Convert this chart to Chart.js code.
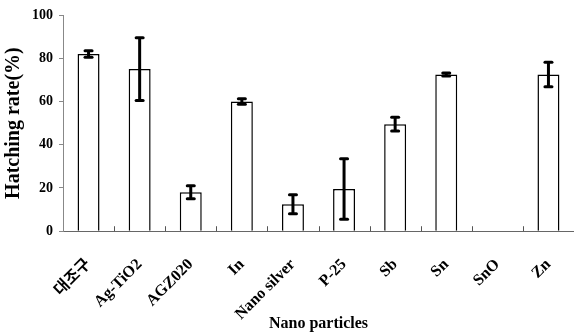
<!DOCTYPE html>
<html>
<head>
<meta charset="utf-8">
<script src="https://cdn.jsdelivr.net/npm/chart.js@4/dist/chart.umd.min.js"></script>
<style>
html,body{margin:0;padding:0;background:#fff;}
#wrap{width:574px;height:333px;position:relative;}
</style>
</head>
<body>
<div id="wrap"><canvas id="c"></canvas></div>
<script>
const categories = ['대조구', 'Ag-TiO2', 'AGZ020', 'In', 'Nano silver', 'P-25', 'Sb', 'Sn', 'SnO', 'Zn'];
const hatchingRate = [82, 75, 18, 60, 12.5, 19.5, 49.5, 72.5, 0, 72.5];
const errorValues = [1.5, 14.5, 3, 1.3, 4.4, 14, 3.2, 0.7, 0, 5.7];
const yTicks = [0, 20, 40, 60, 80, 100];

const FONT = "'Liberation Serif', 'Noto Sans CJK KR', serif";

const errorBarPlugin = {
  id: 'errorBars',
  afterDatasetsDraw(chart) {
    const ctx = chart.ctx;
    const meta = chart.getDatasetMeta(0);
    const y = chart.scales.y;
    ctx.save();
    ctx.strokeStyle = '#000';
    meta.data.forEach((bar, i) => {
      const v = hatchingRate[i], e = errorValues[i];
      if (!e) return;
      const yHi = y.getPixelForValue(v + e);
      const yLo = y.getPixelForValue(v - e);
      const x = bar.x;
      ctx.lineWidth = 3;
      ctx.lineCap = 'butt';
      ctx.beginPath();
      ctx.moveTo(x, yHi); ctx.lineTo(x, yLo); ctx.stroke();
      ctx.lineWidth = 3;
      ctx.lineCap = 'round';
      [yHi, yLo].forEach(py => {
        ctx.beginPath();
        ctx.moveTo(x - 3.5, py); ctx.lineTo(x + 3.5, py); ctx.stroke();
      });
    });
    ctx.restore();
  }
};

const innerTicksPlugin = {
  id: 'innerTicks',
  afterDraw(chart) {
    const ctx = chart.ctx;
    const xs = chart.scales.x;
    const bottom = chart.chartArea.bottom;
    ctx.save();
    ctx.strokeStyle = '#555';
    ctx.lineWidth = 1;
    for (let i = 1; i < categories.length; i++) {
      const px = Math.round((xs.getPixelForTick(i - 1) + xs.getPixelForTick(i)) / 2) + 0.5;
      ctx.beginPath();
      ctx.moveTo(px, bottom); ctx.lineTo(px, bottom - 5); ctx.stroke();
    }
    ctx.restore();
  }
};

new Chart(document.getElementById('c'), {
  type: 'bar',
  data: {
    labels: categories,
    datasets: [{
      data: hatchingRate,
      backgroundColor: '#ffffff',
      borderColor: '#000000',
      borderWidth: 1.5,
      borderSkipped: 'bottom',
      barPercentage: 0.43,
      categoryPercentage: 1.0
    }]
  },
  options: {
    responsive: true,
    maintainAspectRatio: false,
    animation: false,
    layout: { autoPadding: false, padding: { left: -2, right: 0, top: 15, bottom: 0 } },
    plugins: { legend: { display: false }, tooltip: { enabled: false } },
    scales: {
      x: {
        afterFit(scale) { scale.paddingLeft = 0; scale.paddingRight = 0; },
        grid: { display: false, drawOnChartArea: false },
        border: { display: true, color: '#666', width: 1 },
        ticks: {
          color: '#000',
          maxRotation: 45, minRotation: 45,
          autoSkip: false,
          padding: 16,
          font: { family: FONT, size: 16, weight: 'bold' }
        },
        title: {
          display: true,
          text: 'Nano particles',
          color: '#000',
          font: { family: FONT, size: 16, weight: 'bold' },
          padding: { top: -26, bottom: 0 }
        }
      },
      y: {
        min: 0, max: 100,
        afterFit(scale) { scale.paddingTop = 0; },
        afterBuildTicks(axis) { axis.ticks = yTicks.map(v => ({ value: v })); },
        grid: { drawOnChartArea: false, drawTicks: true, tickLength: 4, color: '#888' },
        border: { display: true, color: '#888', width: 1, dash: [2, 1] },
        ticks: {
          color: '#000',
          padding: 6,
          font: { family: FONT, size: 14, weight: 'bold' }
        },
        title: {
          display: true,
          text: 'Hatching rate(%)',
          color: '#000',
          font: { family: FONT, size: 20, weight: 'bold' },
          padding: { top: 4, bottom: 0 }
        }
      }
    }
  },
  plugins: [errorBarPlugin, innerTicksPlugin]
});
</script>
</body>
</html>
